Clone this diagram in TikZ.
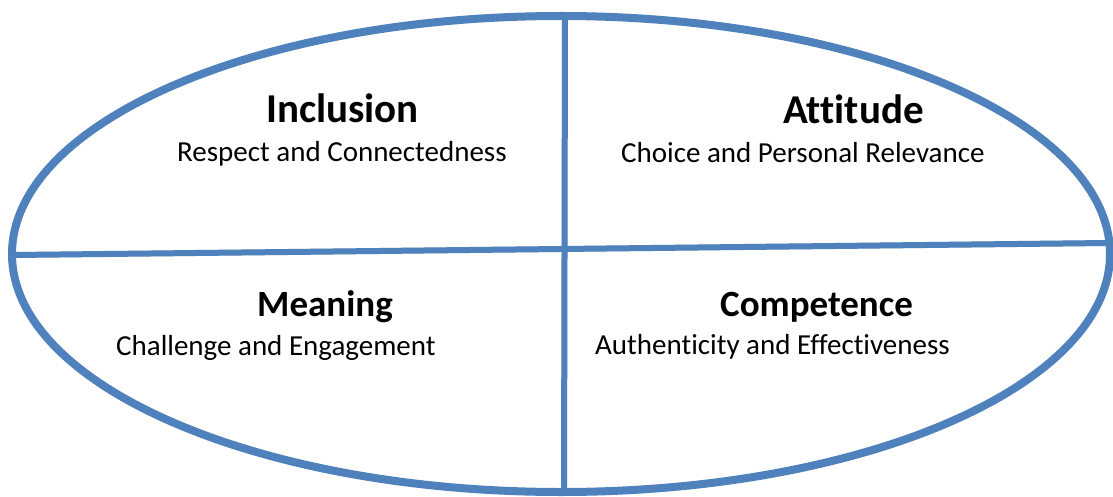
\documentclass[tikz,border=0pt]{standalone}
\usepackage{fontspec}
\setmainfont[Ligatures=NoCommon]{Carlito}
\usetikzlibrary{shapes.geometric}
\definecolor{ovalblue}{HTML}{4F81BD}

\tikzset{
  rim/.style={draw=ovalblue, line width=8pt},
  split/.style={draw=ovalblue, line width=6pt},
  shade/.style={draw=black!15, line width=6pt},
  title/.style={anchor=base west, inner sep=0pt, font=\bfseries\fontsize{41}{41}\selectfont},
  lowtitle/.style={anchor=base west, inner sep=0pt, font=\bfseries\fontsize{37}{37}\selectfont},
  sub/.style={anchor=base west, inner sep=0pt, font=\fontsize{29}{29}\selectfont}
}

\begin{document}
\begin{tikzpicture}[x=1pt, y=-1pt]
  \useasboundingbox (0,0) rectangle (1113,497);

  % Define nodes
  \coordinate (top)    at (565,14);
  \coordinate (bottom) at (564,495);
  \coordinate (left)   at (14,255);
  \coordinate (right)  at (1108,243);

  % Shadows
  \draw[shade, xshift=4pt, yshift=-4pt] (top) -- (bottom);
  \draw[shade, xshift=2pt, yshift=-5pt] (left) -- (right);

  % Oval and the cross
  \node[ellipse, rim, minimum width=1098pt, minimum height=476pt, inner sep=0pt] (oval) at (561,254) {};
  \draw[split] (top) -- (bottom);
  \draw[split] (left) -- (right);

  % Labels
  \node[title]    (inclusion)  at (266,123) {Inclusion};
  \node[sub]      (respect)    at (177,162) {Respect and Connectedness};
  \node[title]    (attitude)   at (783,124) {Attitude};
  \node[sub]      (choice)     at (621,163) {Choice and Personal Relevance};
  \node[lowtitle] (meaning)    at (257,316) {Meaning};
  \node[sub]      (challenge)  at (116,355) {Challenge and Engagement};
  \node[lowtitle] (competence) at (720,316) {Competence};
  \node[sub]      (authentic)  at (595,354) {Authenticity and Effectiveness};

\end{tikzpicture}
\end{document}
